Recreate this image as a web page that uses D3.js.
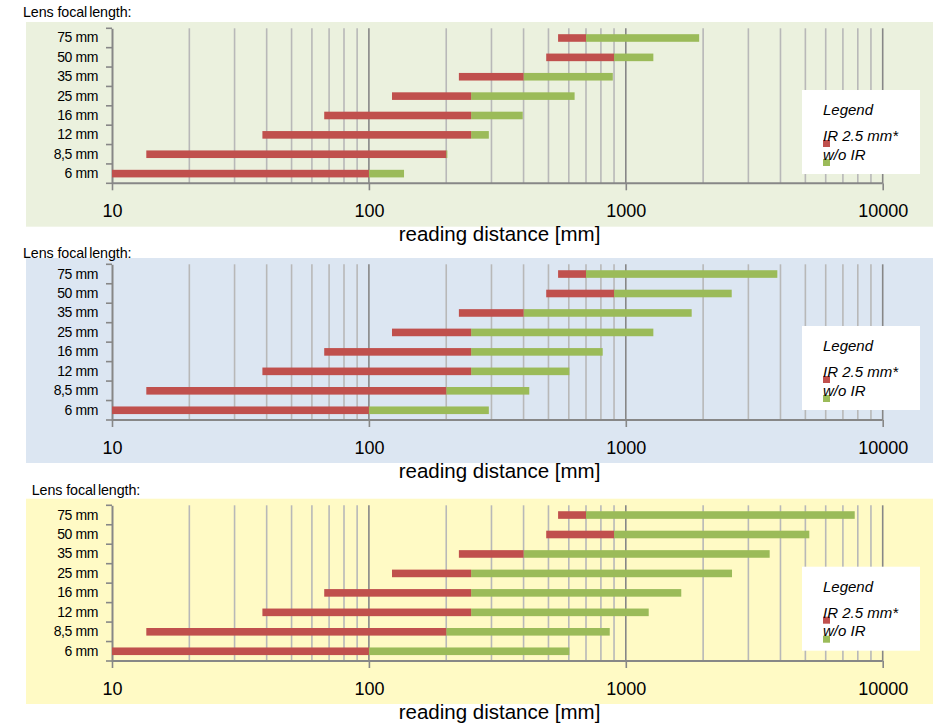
<!DOCTYPE html>
<html><head><meta charset="utf-8">
<script src="https://cdn.jsdelivr.net/npm/d3@7"></script>
<style>body{margin:0;background:#fff}svg{display:block}text{font-family:"Liberation Sans",Arial,sans-serif}</style>
</head><body>
<svg id="c" width="937" height="726"></svg>
<script>
const categories = ["6 mm","8,5 mm","12 mm","16 mm","25 mm","35 mm","50 mm","75 mm"];
const irStart = [10, 13.6, 38.5, 67, 123, 224, 490, 545];
const irEnd   = [100, 200, 250, 250, 250, 400, 900, 700];
const noIrEnd1 = [137, 202, 293, 397, 632, 890, 1280, 1930];
const noIrEnd2 = [293, 421, 603, 813, 1280, 1805, 2584, 3889];
const noIrEnd3 = [603, 866, 1228, 1644, 2591, 3631, 5180, 7782];
const xTicks = [10, 100, 1000, 10000];
const gridValues = [20,30,40,50,60,70,80,90,100,200,300,400,500,600,700,800,900,1000,2000,3000,4000,5000,6000,7000,8000,9000,10000];
const seriesNames = ["IR 2.5 mm*", "w/o IR"];
const panelBg = ["#ebf1de", "#dce6f2", "#fffac5"];
const panelGreen = [noIrEnd1, noIrEnd2, noIrEnd3];
const RED = "#c0504d", GREEN = "#9bbb59";

const svg = d3.select("#c");
const x = d3.scaleLog().domain([10, 10000]).range([112, 882.7]);

const panels = [
  {bgTop: 22, bgBot: 226.7, top: 28.3, base: 183.3, lblX: 23, lblY: 12},
  {bgTop: 258, bgBot: 463, top: 264.3, base: 420, lblX: 23, lblY: 253},
  {bgTop: 498.7, bgBot: 704, top: 505.3, base: 661, lblX: 31.7, lblY: 490}
];

panels.forEach((p, pi) => {
  const g = svg.append("g");
  g.append("rect").attr("x", 26).attr("y", p.bgTop).attr("width", 907).attr("height", p.bgBot - p.bgTop).attr("fill", panelBg[pi]);
  const lbl = g.append("text").attr("x", p.lblX).attr("y", p.lblY).attr("dominant-baseline", "central")
    .attr("font-size", 14.3).attr("letter-spacing", -0.1);
  lbl.append("tspan").text("Lens focal");
  lbl.append("tspan").attr("dx", 2).text("length:");

  const y = d3.scaleBand().domain(categories.slice().reverse()).range([p.top, p.base]);

  // gridlines
  g.append("g").selectAll("line").data(gridValues).join("line")
    .attr("x1", d => x(d)).attr("x2", d => x(d)).attr("y1", p.top).attr("y2", p.base)
    .attr("stroke", d => xTicks.includes(d) ? "#878787" : "#b8b8b8").attr("stroke-width", 1.6);

  // x axis
  const xa = g.append("g").attr("transform", `translate(0,${p.base})`)
    .call(d3.axisBottom(x).tickValues(xTicks).tickFormat(d3.format("d")).tickSize(7).tickPadding(14));
  xa.select(".domain").attr("stroke", "#878787").attr("stroke-width", 2).attr("d", `M112,0H${x(10000)}`);
  xa.selectAll(".tick line").attr("stroke", "#878787").attr("stroke-width", 1.6);
  xa.selectAll(".tick text").attr("font-size", 18).attr("fill", "#000").attr("font-family", '"Liberation Sans",Arial,sans-serif');

  // y axis
  const ya = g.append("g").attr("transform", "translate(112,0)")
    .call(d3.axisLeft(y).tickSize(0).tickPadding(14));
  ya.select(".domain").attr("stroke", "#878787").attr("stroke-width", 2);
  ya.selectAll(".tick text").attr("font-size", 14).attr("letter-spacing", -0.4).attr("fill", "#000")
    .attr("font-family", '"Liberation Sans",Arial,sans-serif');
  const edges = categories.map(c => y(c)).concat([p.base]);
  g.append("g").selectAll("line").data(edges).join("line")
    .attr("x1", 106).attr("x2", 112).attr("y1", d => d).attr("y2", d => d)
    .attr("stroke", "#878787").attr("stroke-width", 1.6);

  const bh = 7.6;
  const green = panelGreen[pi];
  // green bars
  g.append("g").selectAll("rect").data(categories).join("rect")
    .attr("x", (c, i) => x(irEnd[i])).attr("width", (c, i) => Math.max(0, x(green[i]) - x(irEnd[i])))
    .attr("y", c => y(c) + y.bandwidth() / 2 - bh / 2).attr("height", bh).attr("fill", GREEN);
  // red bars
  g.append("g").selectAll("rect").data(categories).join("rect")
    .attr("x", (c, i) => x(irStart[i])).attr("width", (c, i) => x(irEnd[i]) - x(irStart[i]))
    .attr("y", c => y(c) + y.bandwidth() / 2 - bh / 2).attr("height", bh).attr("fill", RED);

  // axis title
  g.append("text").attr("x", 499.5).attr("y", p.base + 50).attr("text-anchor", "middle")
    .attr("dominant-baseline", "central").attr("font-size", 20.5).text("reading distance [mm]");

  // legend
  const lt = p.bgTop + 68;
  const lg = g.append("g");
  lg.append("rect").attr("x", 802).attr("y", lt).attr("width", 118).attr("height", 84).attr("fill", "#fff");
  lg.append("text").attr("x", 823).attr("y", lt + 25).attr("font-size", 15).attr("font-style", "italic").text("Legend");
  [RED, GREEN].forEach((col, k) => {
    lg.append("rect").attr("x", 823).attr("y", lt + 50 + k * 19).attr("width", 7).attr("height", 7).attr("fill", col);
    lg.append("text").attr("x", 823).attr("y", lt + 51 + k * 18.5).attr("font-size", 15).attr("font-style", "italic").text(seriesNames[k]);
  });
});
</script>
</body></html>
